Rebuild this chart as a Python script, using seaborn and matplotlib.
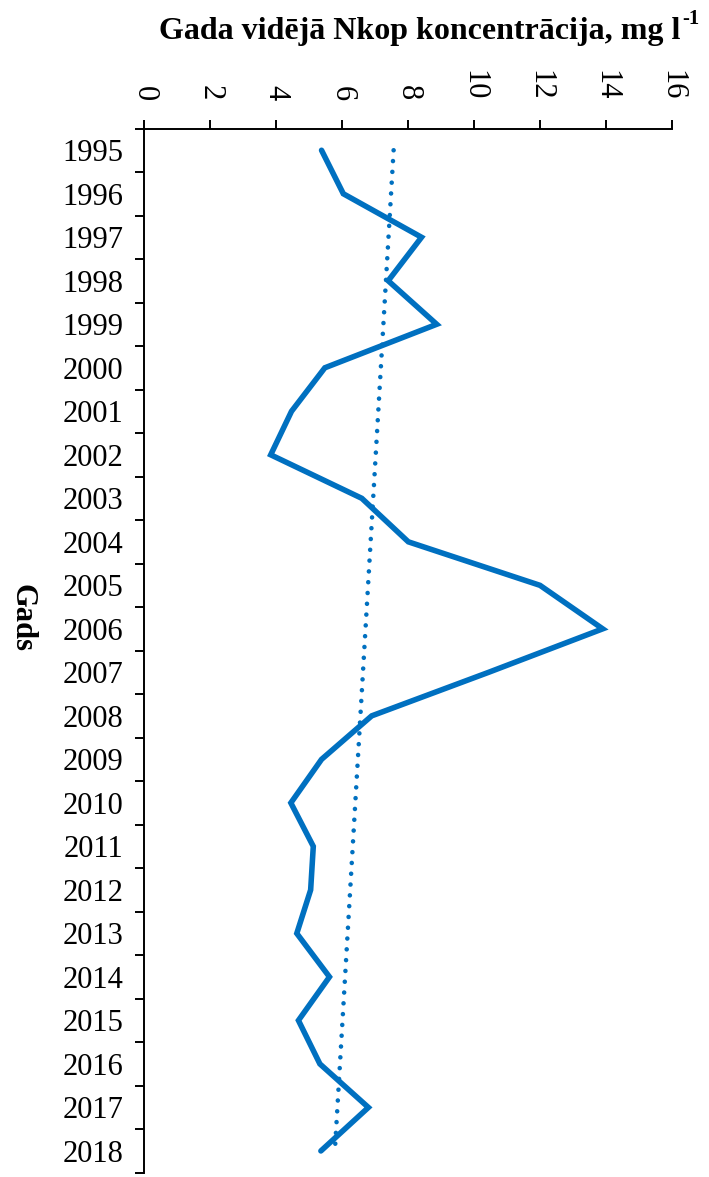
import numpy as np
import pandas as pd
import seaborn as sns
import matplotlib
matplotlib.use("Agg")
import matplotlib.pyplot as plt
from matplotlib.ticker import FixedLocator

# Annual mean total nitrogen concentration (mg/l) by year
years = [1995, 1996, 1997, 1998, 1999, 2000, 2001, 2002, 2003, 2004, 2005, 2006,
         2007, 2008, 2009, 2010, 2011, 2012, 2013, 2014, 2015, 2016, 2017, 2018]
ntot = [5.38, 6.04, 8.41, 7.40, 8.87, 5.48, 4.47, 3.84, 6.60, 8.01, 12.0, 13.9,
        10.44, 6.90, 5.38, 4.45, 5.13, 5.05, 4.63, 5.62, 4.68, 5.33, 6.80, 5.36]
x_ticks = [0, 2, 4, 6, 8, 10, 12, 14, 16]

sns.set_theme(style="white")
plt.rcParams["font.family"] = ["Liberation Serif", "DejaVu Serif"]
plt.rcParams["text.color"] = "black"
plt.rcParams["xtick.color"] = "black"
plt.rcParams["ytick.color"] = "black"
plt.rcParams["axes.labelcolor"] = "black"

BLUE = "#0070C0"

df = pd.DataFrame({"year": years, "value": ntot})
df["pos"] = np.arange(len(df))

# linear trend over the series
coef = np.polyfit(df["pos"], df["value"], 1)
df["trend"] = np.polyval(coef, df["pos"])

fig = plt.figure(figsize=(7.09, 11.77), dpi=100)
H, W = 1177, 709
ax = fig.add_axes([144 / W, 1 - 1172.7 / H, (672 - 144) / W, (1172.7 - 128.5) / H])

sns.lineplot(data=df, x="value", y="pos", sort=False, estimator=None, orient="y",
             color=BLUE, linewidth=4.0, ax=ax, solid_capstyle="round",
             solid_joinstyle="miter")
sns.lineplot(data=df, x="trend", y="pos", sort=False, estimator=None, orient="y",
             color=BLUE, linewidth=3.3, ax=ax, linestyle=(0, (0.01, 2.35)),
             dash_capstyle="round")

ax.set_xlim(0, 16)
ax.set_ylim(len(years) - 0.5, -0.5)

# x axis on top, labels turned sideways
ax.xaxis.set_ticks_position("top")
ax.xaxis.set_label_position("top")
ax.set_xticks(x_ticks)
ax.set_xticklabels([str(t) for t in x_ticks], rotation=-90, fontsize=22)
ax.tick_params(axis="x", which="major", direction="out", length=6.5, width=1.4,
               color="black", labelcolor="black", pad=13.5, top=True, bottom=False)

# year labels at categories, tick marks between categories
ax.set_yticks(df["pos"])
ax.set_yticklabels([str(y) for y in years], fontsize=22)
ax.yaxis.set_minor_locator(FixedLocator(np.arange(-0.5, len(years), 1.0)))
ax.tick_params(axis="y", which="major", length=0, pad=15, labelcolor="black")
ax.tick_params(axis="y", which="minor", direction="out", length=6.5, width=1.4,
               color="black", left=True)

ax.set_xlabel("")
ax.set_ylabel("")
for side in ("right", "bottom"):
    ax.spines[side].set_visible(False)
for side in ("top", "left"):
    ax.spines[side].set_color("black")
    ax.spines[side].set_linewidth(1.4)
ax.grid(False)

title = fig.text(420 / W, 1 - 32 / H, "Gada vidējā Nkop koncentrācija, mg l",
                 ha="center", va="center", fontsize=23, fontweight="bold",
                 color="black")
fig.canvas.draw()
ax.annotate("-1", xy=(1.0, 0.62), xycoords=title, xytext=(1, 0),
            textcoords="offset points", ha="left", va="bottom",
            fontsize=15, fontweight="bold", color="black", annotation_clip=False)
fig.text(22 / W, 1 - 618 / H, "Gads", ha="center", va="center", rotation=-90,
         fontsize=22, fontweight="bold", color="black")

fig.savefig("out.png", dpi=100)
